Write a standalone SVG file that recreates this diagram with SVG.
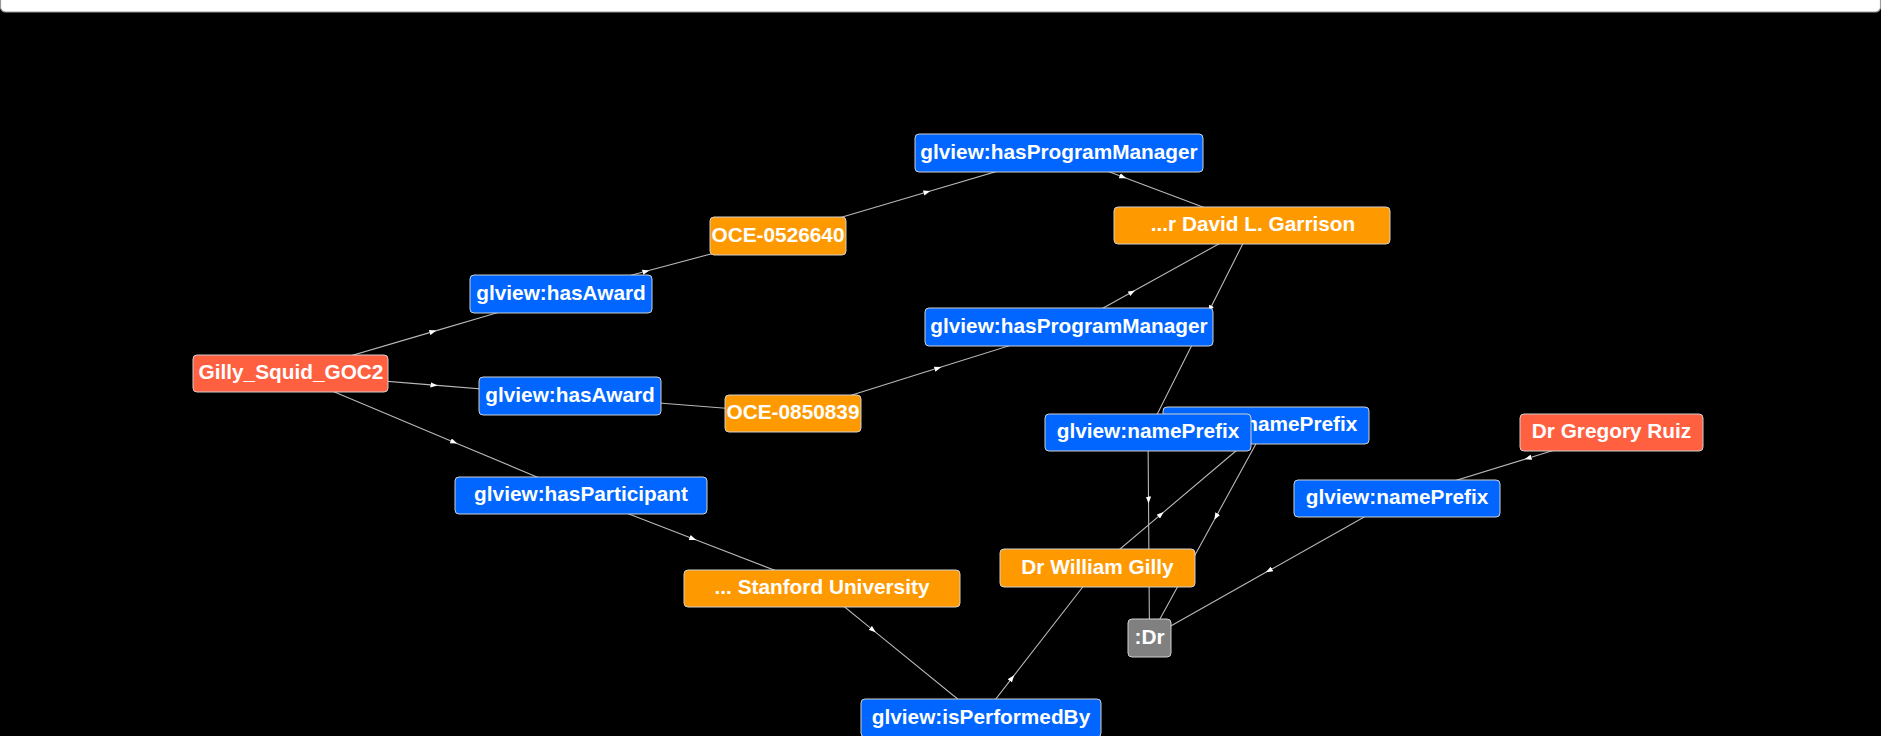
<svg xmlns="http://www.w3.org/2000/svg" width="1881" height="736" viewBox="0 0 1881 736">
<style>
.bg{fill:#000}
.bar{fill:#fff;stroke:#9a9a9a;stroke-width:1.2}
.n rect{stroke:#d0d0d0;stroke-width:1;rx:4;ry:4}
.pred rect{fill:#0066ff}
.lit rect{fill:#ff9900}
.res rect{fill:#ff6040}
.blank rect{fill:#808080}
.n text{font-family:"Liberation Sans",Arial,sans-serif;font-weight:bold;font-size:20.8px;fill:#fff;text-anchor:middle}
.e path{fill:none;stroke:#b8b8b8;stroke-width:1.1;marker-mid:url(#arr)}
</style>
<defs>
<marker id="arr" viewBox="0 0 8 6" refX="4" refY="3" markerWidth="7" markerHeight="5.5" markerUnits="userSpaceOnUse" orient="auto">
<path d="M0,0 L8,3 L0,6 Z" fill="#fff"/>
</marker>
</defs>
<rect class="bg" x="0" y="0" width="1881" height="736"/>
<rect class="bar" x="0.5" y="-10" width="1880" height="22" rx="5" ry="5"/>
<g id="connectors" class="e">
<path d="M290.5,373.5 L433,331.6 L561,294"/>
<path d="M561,294 L646,271.3 L778,236"/>
<path d="M778,236 L927,192 L1059,153"/>
<path d="M1059,153 L1123,177 L1252,225.5"/>
<path d="M290.5,373.5 L434,385.1 L570,396"/>
<path d="M570,396 L793,413.5" style="marker-mid:none"/>
<path d="M793,413.5 L938,368.1 L1069,327"/>
<path d="M1069,327 L1132,292.1 L1252,225.5"/>
<path d="M1252,225.5 L1210,309 L1148,432.5"/>
<path d="M1148,432.5 L1148.5,500 L1149.5,638"/>
<path d="M290.5,373.5 L454,442.2 L581,495.5"/>
<path d="M581,495.5 L693,538.7 L822,588.5"/>
<path d="M822,588.5 L873,630.1 L981,718"/>
<path d="M981,718 L1012,678.1 L1097.5,568"/>
<path d="M1097.5,568 L1161,514.3 L1266,425.5"/>
<path d="M1266,425.5 L1216,516.7 L1149.5,638"/>
<path d="M1611.5,432.5 L1528,458.2 L1397,498.5"/>
<path d="M1397,498.5 L1269,570.6 L1149.5,638"/>
</g>
<g id="n-hpm1" class="n pred"><rect x="915" y="134" width="288" height="38"/><text x="1059" y="159">glview:hasProgramManager</text></g>
<g id="n-oce1" class="n lit"><rect x="710" y="217" width="136" height="38"/><text x="778" y="242">OCE-0526640</text></g>
<g id="n-garrison" class="n lit"><rect x="1114" y="207" width="276" height="37"/><text x="1253" y="231">...r David L. Garrison</text></g>
<g id="n-award1" class="n pred"><rect x="470" y="275" width="182" height="38"/><text x="561" y="300">glview:hasAward</text></g>
<g id="n-hpm2" class="n pred"><rect x="925" y="308" width="288" height="38"/><text x="1069" y="333">glview:hasProgramManager</text></g>
<g id="n-gilly" class="n res"><rect x="193" y="355" width="195" height="37"/><text x="291" y="379">Gilly_Squid_GOC2</text></g>
<g id="n-award2" class="n pred"><rect x="479" y="377" width="182" height="38"/><text x="570" y="402">glview:hasAward</text></g>
<g id="n-oce2" class="n lit"><rect x="725" y="395" width="136" height="37"/><text x="793" y="419">OCE-0850839</text></g>
<g id="n-np-back" class="n pred"><rect x="1163" y="407" width="206" height="37"/><text x="1266" y="431">glview:namePrefix</text></g>
<g id="n-np-front" class="n pred"><rect x="1045" y="414" width="206" height="37"/><text x="1148" y="438">glview:namePrefix</text></g>
<g id="n-ruiz" class="n res"><rect x="1520" y="414" width="183" height="37"/><text x="1611.5" y="438">Dr Gregory Ruiz</text></g>
<g id="n-participant" class="n pred"><rect x="455" y="477" width="252" height="37"/><text x="581" y="501">glview:hasParticipant</text></g>
<g id="n-np-right" class="n pred"><rect x="1294" y="480" width="206" height="37"/><text x="1397" y="504">glview:namePrefix</text></g>
<g id="n-wgilly" class="n lit"><rect x="1000" y="549" width="195" height="38"/><text x="1097.5" y="574">Dr William Gilly</text></g>
<g id="n-stanford" class="n lit"><rect x="684" y="570" width="276" height="37"/><text x="822" y="594">... Stanford University</text></g>
<g id="n-dr" class="n blank"><rect x="1128" y="619" width="43" height="38"/><text x="1149.5" y="644">:Dr</text></g>
<g id="n-performed" class="n pred"><rect x="861" y="699" width="240" height="38"/><text x="981" y="724">glview:isPerformedBy</text></g>
</svg>
